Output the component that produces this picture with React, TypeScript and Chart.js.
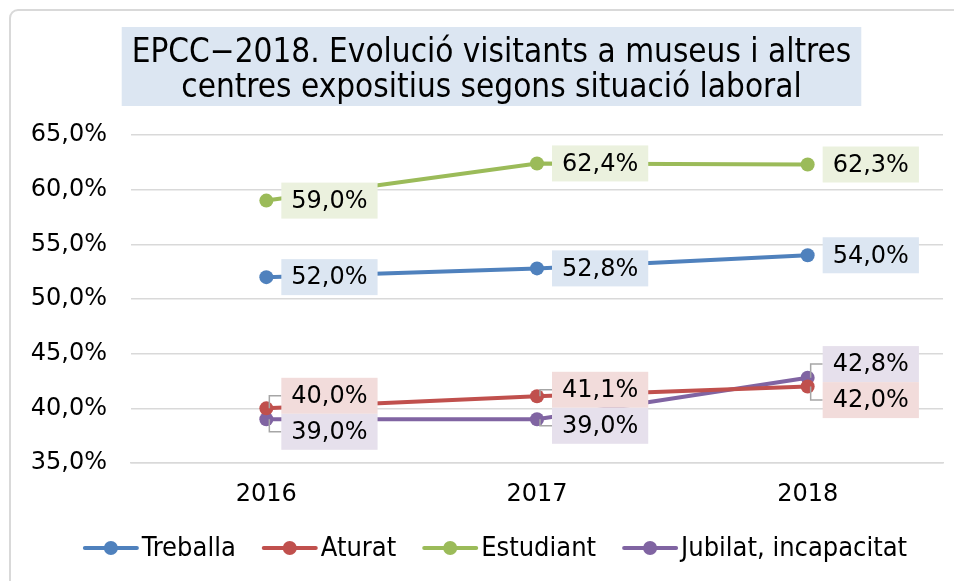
import React, { useEffect, useRef } from 'react';
import { Chart, registerables } from 'chart.js';
Chart.register(...registerables);

const categories = ['2016', '2017', '2018'];
const seriesNames = ['Treballa', 'Aturat', 'Estudiant', 'Jubilat, incapacitat'];
const treballa = [52.0, 52.8, 54.0];
const aturat = [40.0, 41.1, 42.0];
const estudiant = [59.0, 62.4, 62.3];
const jubilat = [39.0, 39.0, 42.8];
const yMin = 35;
const yMax = 65;
const yStep = 5;
const titleLines = [
  'EPCC\u22122018. Evolució visitants a museus i altres',
  'centres expositius segons situació laboral',
];

const lineColors = ['#4F81BD', '#C0504D', '#9BBB59', '#8064A2'];
const labelFills = ['#DCE6F2', '#F2DCDB', '#EBF1DE', '#E6E0EC'];

const fmt = (v: number) => v.toFixed(1).replace('.', ',') + '%';
const MAIN_FONT = '"DejaVu Sans", Verdana, sans-serif';
const COND_FONT = '"DejaVu Sans Condensed", "DejaVu Sans", sans-serif';

const decorPlugin = {
  id: 'decor',
  beforeDraw(chart: any) {
    const ctx = chart.ctx as CanvasRenderingContext2D;
    ctx.save();
    ctx.fillStyle = '#ffffff';
    ctx.fillRect(0, 0, chart.width, chart.height);
    ctx.strokeStyle = '#D9D9D9';
    ctx.lineWidth = 2;
    ctx.beginPath();
    (ctx as any).roundRect(10, 10, 966, 592, 8);
    ctx.stroke();
    // title
    ctx.font = '33px ' + COND_FONT;
    const w = Math.max(...titleLines.map((t) => ctx.measureText(t).width));
    const cx = 491.5;
    ctx.fillStyle = '#DCE6F2';
    ctx.fillRect(cx - w / 2 - 10, 27, w + 20, 79);
    ctx.fillStyle = '#000';
    ctx.textAlign = 'center';
    ctx.textBaseline = 'alphabetic';
    ctx.fillText(titleLines[0], cx, 62);
    ctx.fillText(titleLines[1], cx, 97);
    ctx.restore();
  },
  afterDatasetsDraw(chart: any) {
    const ctx = chart.ctx as CanvasRenderingContext2D;
    ctx.save();
    ctx.font = '24px ' + MAIN_FONT;
    const boxH = 36;
    const nCats = categories.length;
    for (let i = 0; i < nCats; i++) {
      const items: any[] = [];
      chart.data.datasets.forEach((ds: any, di: number) => {
        const el = chart.getDatasetMeta(di).data[i];
        items.push({ di, px: el.x, py: el.y, ly: el.y, v: ds.data[i] });
      });
      items.sort((a, b) => a.py - b.py);
      let groups = items.map((it) => ({ members: [it], center: it.py }));
      let changed = true;
      while (changed) {
        changed = false;
        for (let g = 1; g < groups.length; g++) {
          const a = groups[g - 1];
          const b = groups[g];
          const aBottom = a.center + (a.members.length * boxH) / 2;
          const bTop = b.center - (b.members.length * boxH) / 2;
          if (bTop < aBottom) {
            const members = a.members.concat(b.members);
            const center = members.reduce((s, m) => s + m.py, 0) / members.length;
            groups.splice(g - 1, 2, { members, center });
            changed = true;
            break;
          }
        }
      }
      groups.forEach((g) => {
        const top = g.center - (g.members.length * boxH) / 2;
        g.members.forEach((m, k) => {
          m.ly = top + boxH * k + boxH / 2;
        });
      });
      items.forEach((m) => {
        const text = fmt(m.v);
        const tw = ctx.measureText(text).width;
        const bx = m.px + 15;
        const bw = tw + 20;
        if (Math.abs(m.ly - m.py) > 5) {
          ctx.strokeStyle = '#A6A6A6';
          ctx.lineWidth = 1.5;
          ctx.beginPath();
          ctx.moveTo(m.px + 3, m.py);
          ctx.lineTo(m.px + 3, m.ly);
          ctx.lineTo(bx, m.ly);
          ctx.stroke();
        }
        ctx.fillStyle = labelFills[m.di];
        ctx.fillRect(bx, m.ly - boxH / 2, bw, boxH);
        ctx.fillStyle = '#000';
        ctx.textAlign = 'center';
        ctx.textBaseline = 'middle';
        ctx.fillText(text, bx + bw / 2, m.ly + 1);
      });
    }
    ctx.restore();
  },
  afterDraw(chart: any) {
    const ctx = chart.ctx as CanvasRenderingContext2D;
    ctx.save();
    ctx.font = '27px ' + COND_FONT;
    const sampleW = 56;
    const gapText = 3;
    const gapItem = 26;
    const widths = seriesNames.map((n) => sampleW + gapText + ctx.measureText(n).width);
    const total = widths.reduce((s, w) => s + w, 0) + gapItem * (seriesNames.length - 1);
    let x = 495 - total / 2;
    const y = 548;
    seriesNames.forEach((n, i) => {
      ctx.strokeStyle = lineColors[i];
      ctx.lineWidth = 4;
      ctx.lineCap = 'round';
      ctx.beginPath();
      ctx.moveTo(x + 2, y);
      ctx.lineTo(x + sampleW - 2, y);
      ctx.stroke();
      ctx.fillStyle = lineColors[i];
      ctx.beginPath();
      ctx.arc(x + sampleW / 2, y, 7, 0, Math.PI * 2);
      ctx.fill();
      ctx.fillStyle = '#000';
      ctx.textAlign = 'left';
      ctx.textBaseline = 'middle';
      ctx.fillText(n, x + sampleW + gapText, y + 1);
      x += widths[i] + gapItem;
    });
    ctx.restore();
  },
};

export default function App() {
  const ref = useRef<HTMLCanvasElement | null>(null);
  useEffect(() => {
    document.body.style.margin = '0';
    if (!ref.current) return;
    const series = [treballa, aturat, estudiant, jubilat];
    const chart = new Chart(ref.current, {
      type: 'line',
      data: {
        labels: categories,
        datasets: series.map((d, i) => ({
          label: seriesNames[i],
          data: d,
          borderColor: lineColors[i],
          backgroundColor: lineColors[i],
          borderWidth: 4,
          pointRadius: 7,
          pointBorderWidth: 0,
          pointBackgroundColor: lineColors[i],
          tension: 0,
        })),
      },
      options: {
        responsive: false,
        animation: false,
        layout: { padding: { top: 135, right: 11, bottom: 68, left: 0 } },
        plugins: {
          legend: { display: false },
          title: { display: false },
          tooltip: { enabled: false },
        },
        scales: {
          x: {
            offset: true,
            grid: { display: false, drawTicks: false },
            border: { display: true, color: '#D9D9D9', width: 1.5 },
            ticks: { color: '#000', font: { family: MAIN_FONT, size: 24 }, padding: 17 },
            afterFit: (s: any) => {
              s.height = 50;
            },
          },
          y: {
            min: yMin,
            max: yMax,
            grid: { color: '#D9D9D9', lineWidth: 1.5, drawTicks: false },
            border: { display: false },
            ticks: {
              stepSize: yStep,
              color: '#000',
              font: { family: MAIN_FONT, size: 24 },
              padding: 24,
              callback: (v: any) => fmt(Number(v)),
            },
            afterFit: (s: any) => {
              s.width = 131;
            },
          },
        },
      },
      plugins: [decorPlugin],
    });
    return () => chart.destroy();
  }, []);
  return <canvas ref={ref} width={954} height={581} />;
}
